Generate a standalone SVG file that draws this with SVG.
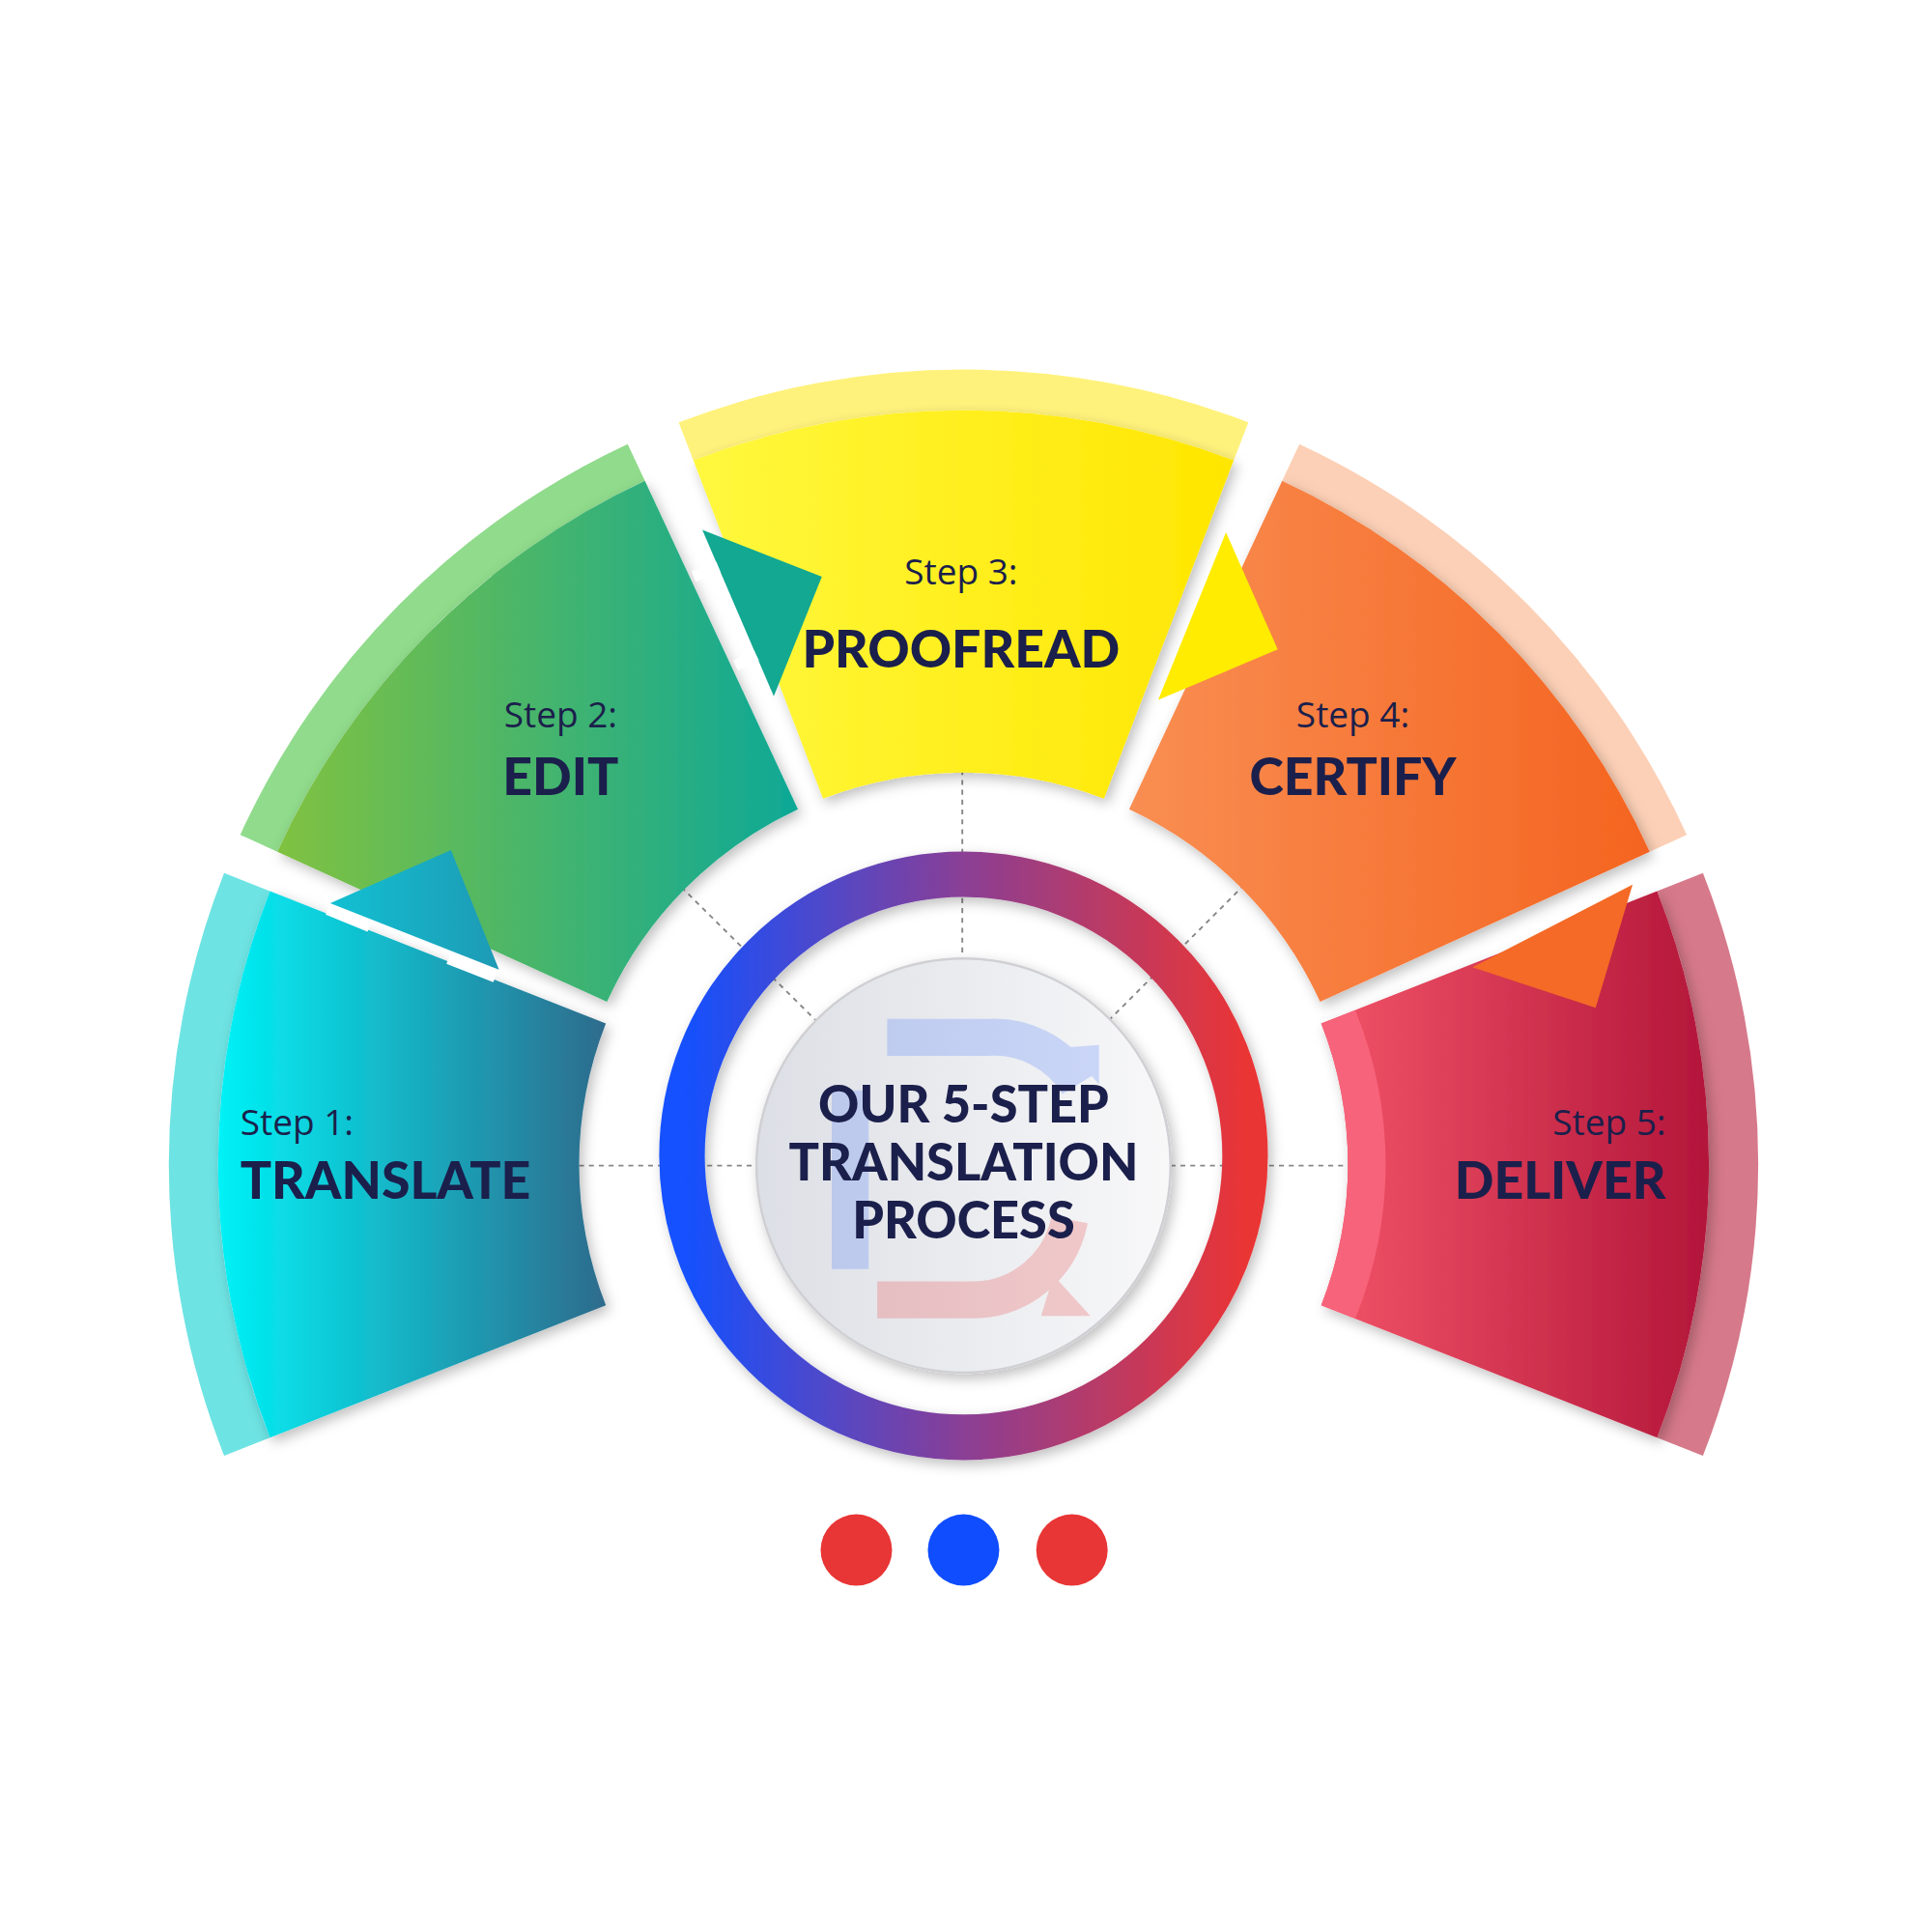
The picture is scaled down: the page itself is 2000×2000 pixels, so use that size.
<svg xmlns="http://www.w3.org/2000/svg" width="2000" height="2000" viewBox="0 0 2000 2000">
<defs>
<linearGradient id="g1" x1="0" y1="0" x2="1" y2="0"><stop offset="0" stop-color="#00f2f7"/><stop offset="1" stop-color="#2e6b8c"/></linearGradient>
<linearGradient id="g2" x1="0" y1="0" x2="1" y2="0"><stop offset="0" stop-color="#80c241"/><stop offset="1" stop-color="#0ea896"/></linearGradient>
<linearGradient id="g3" x1="0" y1="0" x2="1" y2="0"><stop offset="0" stop-color="#fff83e"/><stop offset="1" stop-color="#ffe600"/></linearGradient>
<linearGradient id="g4" x1="0" y1="0" x2="1" y2="0"><stop offset="0" stop-color="#f98e52"/><stop offset="1" stop-color="#f46420"/></linearGradient>
<linearGradient id="g5" x1="0" y1="0" x2="1" y2="0"><stop offset="0" stop-color="#f25468"/><stop offset="1" stop-color="#b3163a"/></linearGradient>
<linearGradient id="a1" x1="0" y1="0" x2="1" y2="0"><stop offset="0" stop-color="#12c0d2"/><stop offset="1" stop-color="#1e9ab5"/></linearGradient>
<linearGradient id="ring" x1="0" y1="0" x2="1" y2="0"><stop offset="0" stop-color="#1351ff"/><stop offset="0.5" stop-color="#8a3f95"/><stop offset="1" stop-color="#ea3535"/></linearGradient>
<linearGradient id="disc" x1="0" y1="0" x2="1" y2="0"><stop offset="0" stop-color="#dcdfe5"/><stop offset="1" stop-color="#f8f8f9"/></linearGradient>
<filter id="sh" x="-20%" y="-20%" width="140%" height="140%"><feDropShadow dx="3" dy="4" stdDeviation="5" flood-color="#000" flood-opacity="0.25"/></filter>
<style>
.step{font-family:"Open Sans","Liberation Sans",sans-serif;font-size:29px;fill:#1b1f4b}
.title{font-family:Lato,"Liberation Sans",sans-serif;font-weight:900;font-size:42px;fill:#1b1f4b}
.ctr{font-family:Lato,"Liberation Sans",sans-serif;font-weight:900;font-size:41px;fill:#1b1f4b;text-anchor:middle}
.dash{stroke:#888;stroke-width:1.5;stroke-dasharray:4 4;fill:none}
.cut{stroke:#fff;stroke-width:9}
</style>
</defs>
<rect width="2000" height="2000" fill="#fff"/>
<g transform="scale(1.27551)">
<g id="guides">
<line class="dash" x1="781" y1="625" x2="781" y2="778"/>
<line class="dash" x1="470" y1="946" x2="614" y2="946"/>
<line class="dash" x1="950" y1="946" x2="1105" y2="946"/>
<line class="dash" x1="553" y1="720" x2="662" y2="828"/>
<line class="dash" x1="1010" y1="718" x2="900" y2="828"/>
</g>
<g id="step1">
<path d="M219.1 723.3 L181.9 708.6 A645 645 0 0 0 181.9 1181.4 L219.1 1166.7 A605 605 0 0 1 219.1 723.3Z" fill="#6ee3e3"/>
<path d="M491.7 830.7 L219.1 723.3 A605 605 0 0 0 219.1 1166.7 L491.7 1059.3 A312 312 0 0 1 491.7 830.7Z" fill="url(#g1)" filter="url(#sh)"/>
<text class="step" x="195" y="921">Step 1:</text>
<text class="title" x="195" y="973">TRANSLATE</text>
</g>
<g id="step2">
<path d="M523.4 390.3 L509.4 360.4 A645 645 0 0 0 195 677.5 L225.1 691.2 A612 612 0 0 1 523.4 390.3Z" fill="#90db8c"/>
<path d="M647.6 656.8 L523.4 390.3 A612 612 0 0 0 225.1 691.2 L492.6 813.1 A318 318 0 0 1 647.6 656.8Z" fill="url(#g2)" filter="url(#sh)"/>
<text class="step" x="455" y="590" text-anchor="middle">Step 2:</text>
<text class="title" x="455" y="645" text-anchor="middle">EDIT</text>
</g>
<g id="step3">
<path d="M562.7 373.6 L550.8 342.8 A645 645 0 0 1 1013.2 342.8 L1001.3 373.6 A612 612 0 0 0 562.7 373.6Z" fill="#fff27c"/>
<path d="M668 648.1 L562.7 373.6 A612 612 0 0 1 1001.3 373.6 L896 648.1 A318 318 0 0 0 668 648.1Z" fill="url(#g3)" filter="url(#sh)"/>
</g>
<g id="step4">
<path d="M1040.6 390.3 L1054.6 360.4 A645 645 0 0 1 1369 677.5 L1338.9 691.2 A612 612 0 0 0 1040.6 390.3Z" fill="#fcd0b6"/>
<path d="M916.4 656.8 L1040.6 390.3 A612 612 0 0 1 1338.9 691.2 L1071.4 813.1 A318 318 0 0 0 916.4 656.8Z" fill="url(#g4)" filter="url(#sh)"/>
<text class="step" x="1098" y="590" text-anchor="middle">Step 4:</text>
<text class="title" x="1098" y="645" text-anchor="middle">CERTIFY</text>
</g>
<g id="step5">
<path d="M1344.9 723.3 L1382.1 708.6 A645 645 0 0 1 1382.1 1181.4 L1344.9 1166.7 A605 605 0 0 0 1344.9 723.3Z" fill="#d6798a"/>
<path d="M1072.3 830.7 L1344.9 723.3 A605 605 0 0 1 1344.9 1166.7 L1072.3 1059.3 A312 312 0 0 0 1072.3 830.7Z" fill="url(#g5)" filter="url(#sh)"/>
<path d="M1072.3 830.7 L1100 820 A330 330 0 0 1 1100 1070 L1072.3 1059.3 A312 312 0 0 0 1072.3 830.7Z" fill="#f7637a"/>
<text class="step" x="1352" y="921" text-anchor="end">Step 5:</text>
<text class="title" x="1352" y="973" text-anchor="end">DELIVER</text>
</g>
<g id="connectors">
<polygon points="268,733 366,690 405,787" fill="url(#a1)"/>
<line class="cut" x1="266" y1="738" x2="300" y2="752"/><line class="cut" x1="364" y1="778" x2="402" y2="793"/>
<polygon points="570,430 667,468 628,565" fill="#12a892"/>
<line class="cut" x1="563" y1="468" x2="583" y2="460"/><line class="cut" x1="597" y1="540" x2="614" y2="532"/>
<polygon points="995,432 1037,527 940,568" fill="#ffec00"/>
<polygon points="1195,785 1325,718 1295,818" fill="#f46a26"/>
</g>
<g id="step3text">
<text class="step" x="780" y="474" text-anchor="middle">Step 3:</text>
<text class="title" x="780" y="542" text-anchor="middle">PROOFREAD</text>
</g>
<g id="center">
<circle cx="782" cy="938" r="228.5" fill="none" stroke="url(#ring)" stroke-width="37" filter="url(#sh)"/>
<circle cx="782" cy="946" r="168" fill="url(#disc)" stroke="#d0d0d4" stroke-width="2" filter="url(#sh)"/>
<g opacity="0.22" fill="none" stroke-width="30">
<path d="M720 842 L800 842 A80 80 0 0 1 875 880" stroke="#3b6fff"/>
<polygon points="865,850 892,848 892,880" fill="#3b6fff" stroke="none"/>
<line x1="690" y1="885" x2="690" y2="1030" stroke="#3b6fff"/>
<path d="M712 1055 L790 1055 A80 80 0 0 0 868 990" stroke="#ea3535"/>
<polygon points="855,1035 885,1068 845,1068" fill="#ea3535" stroke="none"/>
</g>
<text class="ctr" x="782" y="911">OUR 5-STEP</text>
<text class="ctr" x="782" y="958">TRANSLATION</text>
<text class="ctr" x="782" y="1005">PROCESS</text>
</g>
<g id="dots">
<circle cx="695" cy="1258" r="29" fill="#e83535"/>
<circle cx="782" cy="1258" r="29" fill="#0f4dff"/>
<circle cx="870" cy="1258" r="29" fill="#e83535"/>
</g>
</g>
</svg>
